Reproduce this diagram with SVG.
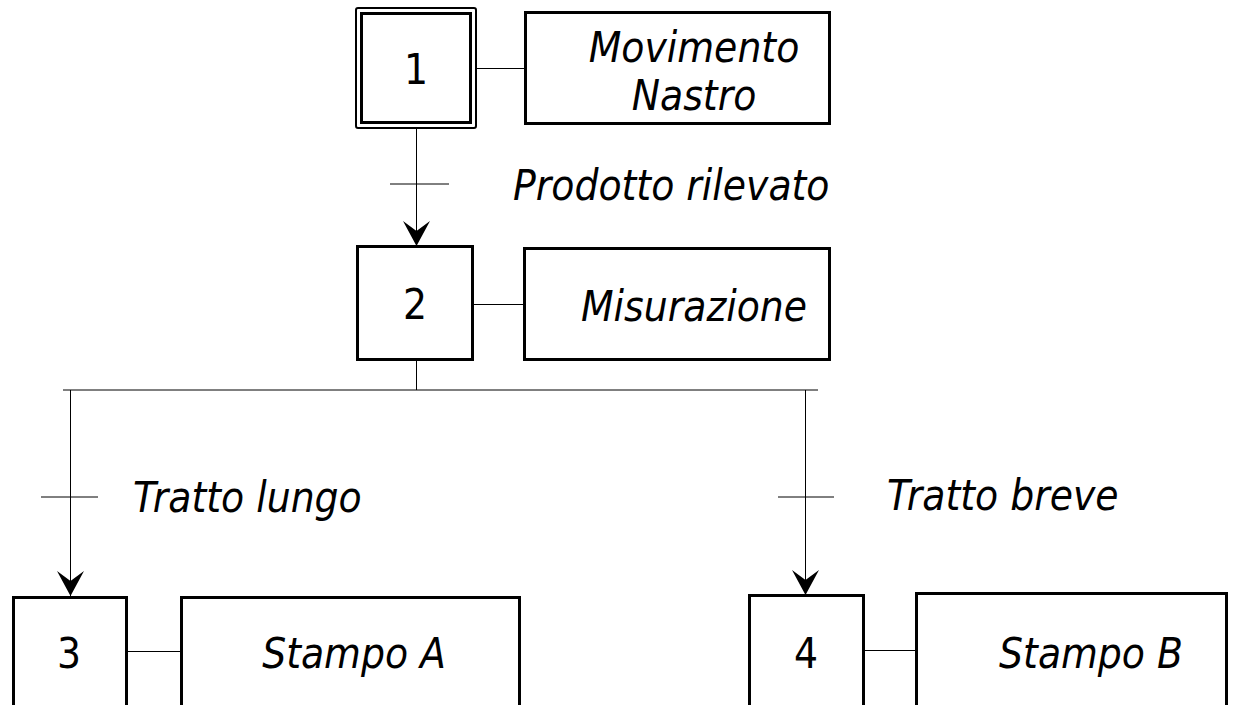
<svg xmlns="http://www.w3.org/2000/svg" width="1237" height="705" viewBox="0 0 1237 705">
  <style>
    .step { fill: #fff; stroke: #000; stroke-width: 3; }
    .act { fill: #fff; stroke: #000; stroke-width: 3; }
    .link { stroke: #000; stroke-width: 1; fill: none; }
    .bar { stroke: #000; stroke-width: 1; }
    .num { font-family: "DejaVu Sans Condensed", "DejaVu Sans", sans-serif; font-size: 42px; fill: #000; text-anchor: middle; }
    .lbl { font-family: "DejaVu Sans Condensed", "DejaVu Sans", sans-serif; font-style: italic; font-size: 42px; fill: #000; }
    .mid { text-anchor: middle; }
  </style>
  <defs>
    <marker id="arrow" viewBox="-27 -15 29 30" refX="0" refY="0" markerWidth="29" markerHeight="30" markerUnits="userSpaceOnUse" orient="auto">
      <path d="M-25,-13.5 L0,0 L-25,13.5 L-15,0 Z" fill="#000"/>
    </marker>
  </defs>
  <rect width="1237" height="705" fill="#fff"/>

  <!-- connectors -->
  <g id="connectors">
    <line class="link" x1="416.5" y1="128" x2="416.5" y2="246" marker-end="url(#arrow)"/>
    <line class="bar" x1="390" y1="184" x2="449" y2="184"/>
    <line class="link" x1="476" y1="68.5" x2="525" y2="68.5"/>
    <line class="link" x1="473" y1="304.5" x2="524" y2="304.5"/>
    <line class="link" x1="416.5" y1="360" x2="416.5" y2="390"/>
    <line class="bar" x1="63" y1="390" x2="818" y2="390"/>
    <line class="link" x1="70.5" y1="390" x2="70.5" y2="596" marker-end="url(#arrow)"/>
    <line class="bar" x1="41" y1="497" x2="98" y2="497"/>
    <line class="link" x1="805.5" y1="390" x2="805.5" y2="595" marker-end="url(#arrow)"/>
    <line class="bar" x1="778" y1="497" x2="834" y2="497"/>
    <line class="link" x1="126" y1="651.5" x2="181" y2="651.5"/>
    <line class="link" x1="864" y1="650.5" x2="916" y2="650.5"/>
  </g>

  <!-- initial step 1 -->
  <g id="step1">
    <rect x="356" y="8" width="120" height="120" rx="2" fill="#fff" stroke="#000" stroke-width="2"/>
    <rect x="361.5" y="13.5" width="109" height="109" class="step"/>
    <text class="num" x="416" y="84">1</text>
  </g>
  <g id="action1">
    <rect x="525.5" y="12.5" width="304" height="111" class="act"/>
    <text class="lbl mid" x="694" y="62">Movimento</text>
    <text class="lbl mid" x="694" y="110">Nastro</text>
  </g>

  <g id="transition1">
    <text class="lbl" x="513" y="200">Prodotto rilevato</text>
  </g>

  <g id="step2">
    <rect x="357.5" y="246.5" width="115" height="113" class="step"/>
    <text class="num" x="415" y="319">2</text>
  </g>
  <g id="action2">
    <rect x="524.5" y="248.5" width="305" height="111" class="act"/>
    <text class="lbl mid" x="694" y="321">Misurazione</text>
  </g>

  <g id="transition2">
    <text class="lbl" x="133" y="512">Tratto lungo</text>
  </g>
  <g id="transition3">
    <text class="lbl" x="887" y="510">Tratto breve</text>
  </g>

  <g id="step3">
    <rect x="13.5" y="597.5" width="113" height="130" class="step"/>
    <text class="num" x="69" y="668">3</text>
  </g>
  <g id="action3">
    <rect x="181.5" y="597.5" width="338" height="130" class="act"/>
    <text class="lbl mid" x="354" y="668">Stampo A</text>
  </g>

  <g id="step4">
    <rect x="749.5" y="595.5" width="114" height="130" class="step"/>
    <text class="num" x="806" y="668">4</text>
  </g>
  <g id="action4">
    <rect x="916.5" y="593.5" width="310" height="130" class="act"/>
    <text class="lbl mid" x="1091" y="668">Stampo B</text>
  </g>
</svg>
